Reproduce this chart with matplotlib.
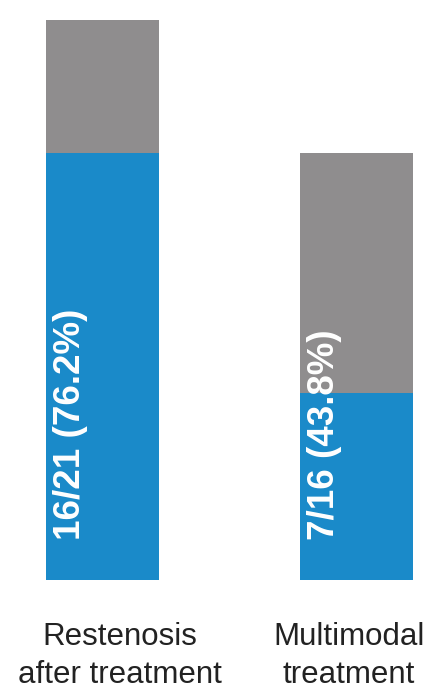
import numpy as np
import matplotlib
matplotlib.use("Agg")
import matplotlib.pyplot as plt
from matplotlib.transforms import blended_transform_factory

# data
groups = ["Restenosis\nafter treatment", "Multimodal\ntreatment"]
totals = [21, 16]
events = [16, 7]
labels = ["16/21 (76.2%)", "7/16 (43.8%)"]

blue = "#1a8ac9"
grey = "#8f8d8e"

plt.rcParams['font.family'] = ['Liberation Sans', 'DejaVu Sans']

fig = plt.figure(figsize=(4.27, 6.84), dpi=100)
ax = fig.add_axes([0, 104 / 684, 1, 580 / 684])

x = np.arange(len(groups))
width = 0.445
rest = [t - e for t, e in zip(totals, events)]

ax.bar(x, events, width=width, color=blue)
ax.bar(x, rest, width=width, bottom=events, color=grey)

for xi, lab in zip(x, labels):
    ax.text(xi - 0.28 * width, 1.5, lab, rotation=90, ha='center', va='bottom',
            color='white', fontsize=26.5, fontweight='bold')

# category names under the bars (not exactly centred in the original)
name_shift = [0.069, -0.03]
trans = blended_transform_factory(ax.transData, fig.transFigure)
for xi, name, dx in zip(x, groups, name_shift):
    ax.text(xi + dx, 62 / 684, name, transform=trans, ha='center', va='top',
            fontsize=22.5, color='#222222', linespacing=1.33)

ax.set_xlim(-0.4035, 1.2776)
ax.set_ylim(0, 21.75)
ax.set_xticks([])
ax.set_yticks([])
for s in ax.spines.values():
    s.set_visible(False)

fig.savefig("out.png", dpi=100)
